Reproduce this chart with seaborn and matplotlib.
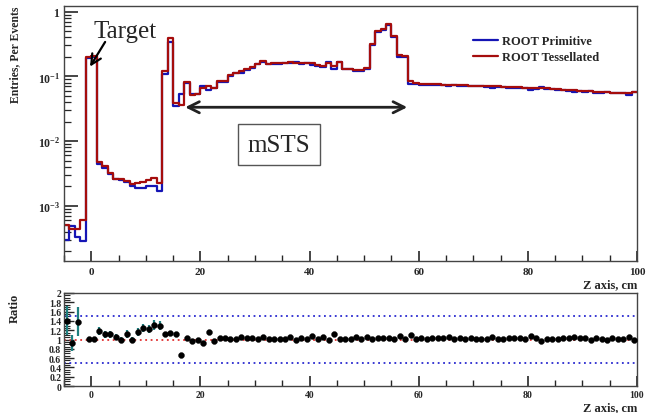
import numpy as np
import pandas as pd
import matplotlib
matplotlib.use('Agg')
import matplotlib.pyplot as plt
import seaborn as sns
from matplotlib.ticker import FixedLocator, FixedFormatter, MultipleLocator, NullFormatter

sns.set_style('ticks')
plt.rcParams['font.family'] = ['Liberation Serif', 'DejaVu Serif']
plt.rcParams['mathtext.fontset'] = 'custom'
plt.rcParams['mathtext.rm'] = 'Liberation Serif:bold'
plt.rcParams['mathtext.it'] = 'Liberation Serif:bold'

# 1 cm bins, z from -5 to 100 cm
edges = list(range(-5, 101))
centers = np.arange(-5, 100) + 0.5

# ROOT Primitive (blue), per bin from z=-5 to z=99
primitive = [
    2.95e-4, 4.9e-4, 3.3e-4, 2.85e-4, 0.193, 0.200,
    4.4e-3, 3.78e-3, 3.08e-3, 2.58e-3, 2.52e-3, 2.30e-3, 2.00e-3, 1.87e-3, 1.87e-3, 2.00e-3, 2.04e-3, 1.70e-3,
    0.110, 0.345, 0.0350, 0.0540, 0.080, 0.053, 0.054, 0.071, 0.061, 0.067,
    0.083, 0.082, 0.103, 0.112, 0.113, 0.125, 0.136, 0.154, 0.165, 0.156,
    0.156, 0.157, 0.160, 0.161, 0.165, 0.153, 0.161, 0.148, 0.147, 0.138,
    0.166, 0.131, 0.167, 0.128, 0.128, 0.120, 0.123, 0.129, 0.307, 0.485,
    0.517, 0.618, 0.412, 0.200, 0.202, 0.0773, 0.0765, 0.0736, 0.0740, 0.0736,
    0.0728, 0.0723, 0.0706, 0.0733, 0.0707, 0.0716, 0.0701, 0.0704, 0.0698, 0.0691,
    0.0667, 0.0684, 0.0676, 0.0666, 0.0654, 0.0650, 0.0659, 0.0624, 0.0635, 0.0682,
    0.0644, 0.0634, 0.0620, 0.0607, 0.0594, 0.0581, 0.0584, 0.0573, 0.0602, 0.0558,
    0.0561, 0.0572, 0.0544, 0.0545, 0.0547, 0.0524, 0.0580,
]

# ROOT Tessellated (red)
tessellated = [
    5.0e-4, 4.45e-4, 4.45e-4, 6.0e-4, 0.200, 0.207,
    4.8e-3, 4.1e-3, 3.25e-3, 2.63e-3, 2.63e-3, 2.40e-3, 2.16e-3, 2.22e-3, 2.30e-3, 2.47e-3, 2.65e-3, 2.22e-3,
    0.121, 0.387, 0.0385, 0.0358, 0.082, 0.051, 0.053, 0.065, 0.0697, 0.0655,
    0.085, 0.085, 0.105, 0.114, 0.119, 0.129, 0.140, 0.157, 0.173, 0.157,
    0.158, 0.159, 0.163, 0.169, 0.163, 0.159, 0.163, 0.158, 0.150, 0.145,
    0.163, 0.145, 0.169, 0.129, 0.129, 0.126, 0.124, 0.137, 0.313, 0.500,
    0.533, 0.637, 0.420, 0.214, 0.206, 0.085, 0.078, 0.0765, 0.0755, 0.0758,
    0.0750, 0.0745, 0.0748, 0.0740, 0.0735, 0.0730, 0.0722, 0.0718, 0.0712, 0.0705,
    0.0700, 0.0698, 0.0690, 0.0686, 0.0680, 0.0676, 0.0672, 0.0668, 0.0660, 0.0655,
    0.0650, 0.0640, 0.0632, 0.0625, 0.0618, 0.0610, 0.0602, 0.0596, 0.0590, 0.0580,
    0.0572, 0.0566, 0.0560, 0.0556, 0.0552, 0.0550, 0.0580,
]

# ratio panel points (bin z=-2 is off scale)
ratio = [
    1.40, 0.92, 1.38, np.nan, 1.02, 1.02,
    1.18, 1.11, 1.11, 1.05, 0.99, 1.12, 0.99, 1.16, 1.25, 1.22, 1.31, 1.30,
    1.12, 1.13, 1.11, 0.67, 1.03, 0.97, 0.98, 0.92, 1.16, 0.97,
    1.03, 1.03, 1.02, 1.02, 1.05, 1.03, 1.03, 1.02, 1.05, 1.01,
    1.01, 1.01, 1.02, 1.05, 0.99, 1.04, 1.01, 1.07, 1.02, 1.05,
    0.98, 1.11, 1.01, 1.01, 1.01, 1.05, 1.01, 1.06, 1.02, 1.03,
    1.03, 1.03, 1.02, 1.07, 1.02, 1.10, 1.02, 1.04, 1.02, 1.03,
    1.03, 1.03, 1.06, 1.01, 1.04, 1.02, 1.03, 1.02, 1.02, 1.02,
    1.05, 1.02, 1.02, 1.03, 1.04, 1.04, 1.02, 1.07, 1.04, 0.96,
    1.01, 1.01, 1.02, 1.03, 1.04, 1.05, 1.03, 1.04, 0.98, 1.04,
    1.02, 0.99, 1.03, 1.02, 1.01, 1.05, 1.00,
]
ratio_err = [
    0.31, 0.17, 0.31, 0.0, 0.02, 0.02,
    0.08, 0.07, 0.07, 0.07, 0.07, 0.08, 0.07, 0.08, 0.09, 0.09, 0.10, 0.10,
    0.03, 0.03, 0.03, 0.03,
] + [0.02] * 83

blue = '#1515b5'
red = '#a50d0d'
teal = '#1e7f7f'

df = pd.DataFrame({'z': centers, 'primitive': primitive, 'tessellated': tessellated,
                   'ratio': ratio, 'err': ratio_err})

fig = plt.figure(figsize=(6.48, 4.14), dpi=100)
ax = fig.add_axes([0.0988, 0.367, 0.8842, 0.616])
axr = fig.add_axes([0.0988, 0.065, 0.8842, 0.225])

sns.histplot(data=df, x='z', weights='primitive', bins=edges, element='step', fill=False,
             color=blue, linewidth=1.6, ax=ax, label='ROOT Primitive')
sns.histplot(data=df, x='z', weights='tessellated', bins=edges, element='step', fill=False,
             color=red, linewidth=1.6, ax=ax, label='ROOT Tessellated')
ax.set_yscale('log')
ax.set_xlim(-5, 100)
ax.set_ylim(1.4e-4, 1.22)
ax.set_xlabel('')
ax.set_ylabel('')

ax.yaxis.set_major_locator(FixedLocator([1e-3, 1e-2, 1e-1, 1]))
ax.yaxis.set_major_formatter(FixedFormatter([r'$10^{-3}$', r'$10^{-2}$', r'$10^{-1}$', r'$1$']))
ax.yaxis.set_minor_locator(matplotlib.ticker.LogLocator(base=10, subs=np.arange(2, 10)))
ax.yaxis.set_minor_formatter(NullFormatter())

# ratio panel
axr.axhline(1.0, color='#e03030', ls=(0, (1, 2)), lw=1.3)
axr.axhline(1.5, color='#2a2ad0', ls=(0, (1, 2)), lw=1.3)
axr.axhline(0.5, color='#2a2ad0', ls=(0, (1, 2)), lw=1.3)
axr.vlines(df['z'], df['ratio'] - df['err'], df['ratio'] + df['err'], color=teal, lw=1.6)
sns.scatterplot(data=df, x='z', y='ratio', color='black', s=18, edgecolor='black',
                linewidth=0.3, ax=axr, zorder=5)
axr.set_xlim(-5, 100)
axr.set_ylim(0, 2)
axr.set_xlabel('')
axr.set_ylabel('')
axr.yaxis.set_major_locator(FixedLocator(np.round(np.arange(0, 2.01, 0.2), 1)))
axr.yaxis.set_major_formatter(FixedFormatter(['0', '0.2', '0.4', '0.6', '0.8', '1', '1.2', '1.4', '1.6', '1.8', '2']))
axr.yaxis.set_minor_locator(MultipleLocator(0.05))

for a in (ax, axr):
    a.xaxis.set_major_locator(MultipleLocator(20))
    a.xaxis.set_minor_locator(MultipleLocator(5))
    a.tick_params(axis='both', which='both', direction='in', right=False, top=False)
    a.tick_params(axis='x', which='major', length=7, width=1.2, pad=4)
    a.tick_params(axis='x', which='minor', length=4, width=1)
    for s in a.spines.values():
        s.set_color('#444444')
        s.set_linewidth(1.0)

ax.tick_params(axis='x', which='major', labelsize=8)
ax.tick_params(axis='y', which='major', length=10, width=1.2, labelsize=8.5, pad=3)
ax.tick_params(axis='y', which='minor', length=5, width=0.9)
axr.tick_params(axis='y', which='major', length=7, width=1, labelsize=7, pad=2)
axr.tick_params(axis='y', which='minor', length=4, width=0.8)
axr.tick_params(axis='x', which='major', labelsize=7, pad=3)
for a in (ax, axr):
    for lab in a.get_xticklabels() + a.get_yticklabels():
        lab.set_fontweight('bold')

ax.legend(loc='upper left', bbox_to_anchor=(0.695, 0.93), frameon=False,
          prop={'family': 'Liberation Serif', 'weight': 'bold', 'size': 9},
          handlelength=2.0, handletextpad=0.3, labelspacing=0.3)

# annotations
ax.annotate('', xy=(-0.5, 0.13), xytext=(2.8, 0.37),
            arrowprops=dict(arrowstyle='->', lw=1.6, color='black', mutation_scale=18))
ax.text(6.2, 0.5, 'Target', fontsize=18, ha='center', va='center')
ax.annotate('', xy=(17.2, 0.0333), xytext=(57.9, 0.0333),
            arrowprops=dict(arrowstyle='<->', lw=2.0, color='#222222', mutation_scale=20,
                            shrinkA=0, shrinkB=0))
ax.text(34.4, 0.0087, 'mSTS', fontsize=18, ha='center', va='center',
        bbox=dict(boxstyle='square,pad=0.38', facecolor='white', edgecolor='#555555', lw=1))

# axis titles
fig.text(0.023, 0.983, 'Entries, Per Events', rotation=90, ha='center', va='top',
         fontsize=8.5, fontweight='bold')
fig.text(0.983, 0.312, 'Z axis, cm', ha='right', va='center', fontsize=9, fontweight='bold')
fig.text(0.023, 0.29, 'Ratio', rotation=90, ha='center', va='top',
         fontsize=9, fontweight='bold')
fig.text(0.983, 0.015, 'Z axis, cm', ha='right', va='center', fontsize=9, fontweight='bold')

fig.savefig('out.png', dpi=100)
